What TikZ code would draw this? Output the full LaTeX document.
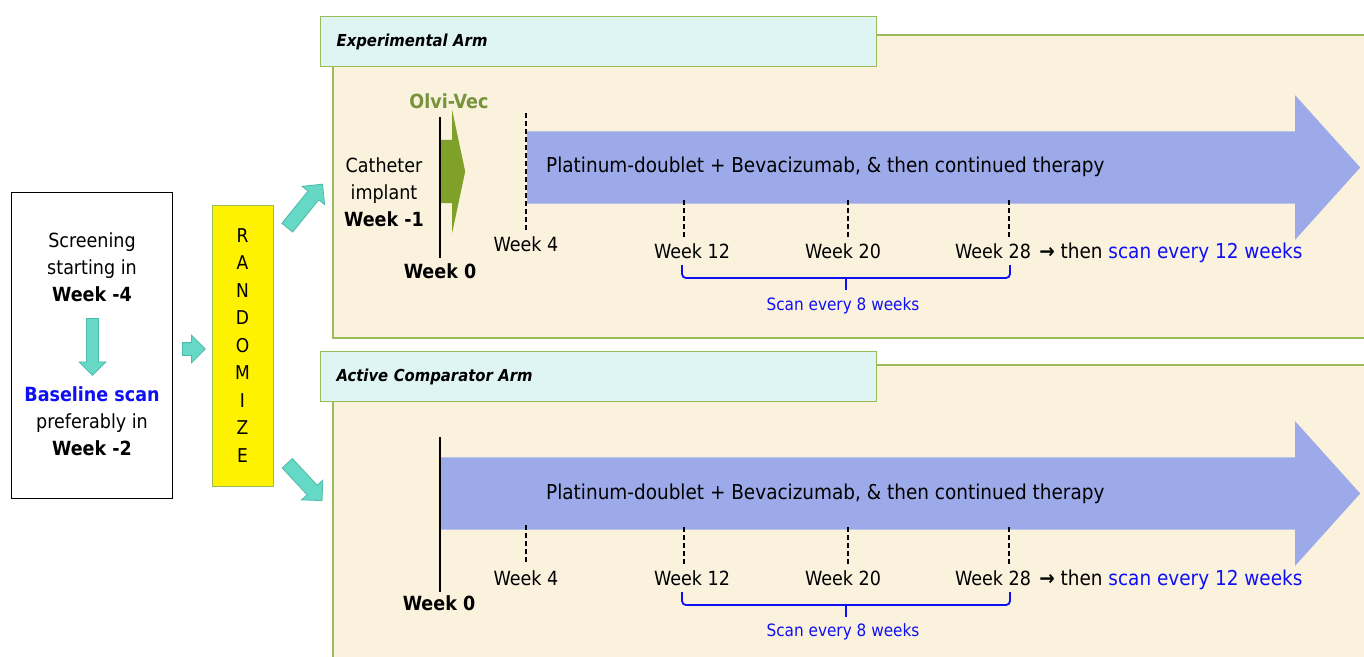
\documentclass[tikz,border=0pt]{standalone}
\usepackage{fontspec}
\setmainfont{DejaVu Sans Condensed}
\usetikzlibrary{shapes.arrows,positioning}

\definecolor{panelbg}{RGB}{250,242,221}
\definecolor{panelline}{RGB}{155,187,89}
\definecolor{titlebg}{RGB}{223,245,244}
\definecolor{tealfill}{RGB}{102,216,198}
\definecolor{tealline}{RGB}{78,186,170}
\definecolor{barblue}{RGB}{157,170,234}
\definecolor{olvigreen}{RGB}{119,147,60}
\definecolor{armgreen}{RGB}{127,161,42}
\definecolor{scanblue}{RGB}{15,15,245}

\tikzset{
 txt/.style={font=\fontsize{19.5}{27}\selectfont, inner sep=0pt, align=center},
 bigtxt/.style={font=\fontsize{20.5}{27}\selectfont, inner sep=0pt},
 small/.style={font=\fontsize{17}{20}\selectfont, inner sep=0pt, text=scanblue},
 panel/.style={fill=panelbg, draw=panelline, line width=1.2pt},
 titlebox/.style={fill=titlebg, draw=panelline, line width=1.2pt, anchor=north west,
   minimum height=50pt, text width=524pt, inner xsep=16pt, align=left,
   font=\fontsize{16.5}{19}\selectfont\bfseries\itshape},
 tealarrow/.style={single arrow, fill=tealfill, draw=tealline, line width=0.8pt, anchor=tail,
   inner xsep=0pt, inner ysep=6pt, single arrow head extend=7.5pt, minimum width=27pt,
   single arrow tip angle=90},
 bararrow/.style={single arrow, fill=barblue, anchor=tail, inner xsep=0pt, inner ysep=36pt,
   single arrow head extend=36pt, minimum width=144pt, single arrow tip angle=96},
 tick/.style={line width=1.2pt, dash pattern=on 5pt off 3pt},
 weekline/.style={line width=2.5pt},
 scanbrace/.style={draw=scanblue, line width=1.8pt, rounded corners=4pt},
}

\begin{document}
\begin{tikzpicture}[x=1pt, y=-1pt]
\useasboundingbox (0,0) rectangle (1364,656);
\clip (0,0) rectangle (1364,656);

% screening box
\node[draw, line width=0.8pt, minimum width=161pt, minimum height=306pt] (screen) at (91.5,345) {};
\node[txt] (scrtxt) at (92,267) {Screening\\starting in\\\textbf{Week -4}};
\node[tealarrow, rotate=-90, minimum height=57pt, inner ysep=5.5pt] (down) at (92.5,318) {};
\node[txt] (basetxt) at (92,421) {\textcolor{scanblue}{\textbf{Baseline scan}}\\preferably in\\\textbf{Week -2}};

% randomize
\node[tealarrow, minimum height=23pt] (torand) at (182,349) {};
\node[fill=yellow, draw=panelline, line width=1pt, minimum width=61pt, minimum height=281pt,
  font=\fontsize{19}{27.5}\selectfont, align=center] (rand) at (242.5,345.5)
  {R\\A\\N\\D\\O\\M\\I\\Z\\E};
\node[tealarrow, rotate=51, minimum height=56pt, inner ysep=6.5pt, minimum width=29pt] (toexp) at (287,228) {};
\node[tealarrow, rotate=-47, minimum height=51pt, inner ysep=6.5pt, minimum width=29pt] (tocomp) at (287,463) {};

% experimental arm
\draw[panel] (333,35) rectangle (1400,338);
\node[titlebox] (exptitle) at (320,16) {Experimental Arm};
\node[bararrow, minimum height=833pt] (bar1) at (527,167.5) {};
\node[single arrow, fill=armgreen, anchor=tail, minimum height=25pt, inner xsep=0pt,
  inner ysep=31.5pt, single arrow head extend=30pt, minimum width=123pt,
  single arrow tip angle=156] (olviarrow) at (440,171.5) {};
\draw[weekline] (440,117) -- (440,258);
\draw[tick] (526,113) -- (526,232);
\draw[tick] (684,200) -- (684,238);
\draw[tick] (848,200) -- (848,238);
\draw[tick] (1009,200) -- (1009,238);
\node[txt, text=olvigreen] (olvi) at (449,101) {\bfseries Olvi-Vec};
\node[txt] (cath) at (384,192) {Catheter\\implant\\\textbf{Week -1}};
\node[txt] (t1w0) at (440,271) {\textbf{Week 0}};
\node[bigtxt, anchor=west] (t1plat) at (546,167) {Platinum-doublet + Bevacizumab, \& then continued therapy};
\node[txt] (t1w4) at (526,244) {Week 4};
\node[txt] (t1w12) at (692,251) {Week 12};
\node[txt] (t1w20) at (843,251) {Week 20};
\node[txt] (t1w28) at (993,251) {Week 28};
\node[bigtxt, anchor=base west] (t1then) at ([xshift=8pt]t1w28.base east)
  {\textbf{→} then \textcolor{scanblue}{scan every 12 weeks}};
\draw[scanbrace] (682,265) -- (682,278) -- (1010,278) -- (1010,265);
\draw[scanbrace] (846,278) -- (846,290);
\node[small] (t1scan) at (843,306) {Scan every 8 weeks};

% active comparator arm
\draw[panel] (333,365) rectangle (1400,700);
\node[titlebox] (comptitle) at (320,351) {Active Comparator Arm};
\node[bararrow, minimum height=919pt] (bar2) at (441,493.5) {};
\draw[weekline] (440,437) -- (440,592);
\draw[tick] (526,525) -- (526,563);
\draw[tick] (684,527) -- (684,565);
\draw[tick] (848,527) -- (848,565);
\draw[tick] (1009,527) -- (1009,565);
\node[txt] (t2w0) at (439,603) {\textbf{Week 0}};
\node[bigtxt, anchor=west] (t2plat) at (546,494) {Platinum-doublet + Bevacizumab, \& then continued therapy};
\node[txt] (t2w4) at (526,578) {Week 4};
\node[txt] (t2w12) at (692,578) {Week 12};
\node[txt] (t2w20) at (843,578) {Week 20};
\node[txt] (t2w28) at (993,578) {Week 28};
\node[bigtxt, anchor=base west] (t2then) at ([xshift=8pt]t2w28.base east)
  {\textbf{→} then \textcolor{scanblue}{scan every 12 weeks}};
\draw[scanbrace] (682,592) -- (682,605) -- (1010,605) -- (1010,592);
\draw[scanbrace] (846,605) -- (846,617);
\node[small] (t2scan) at (843,632) {Scan every 8 weeks};
\end{tikzpicture}
\end{document}
